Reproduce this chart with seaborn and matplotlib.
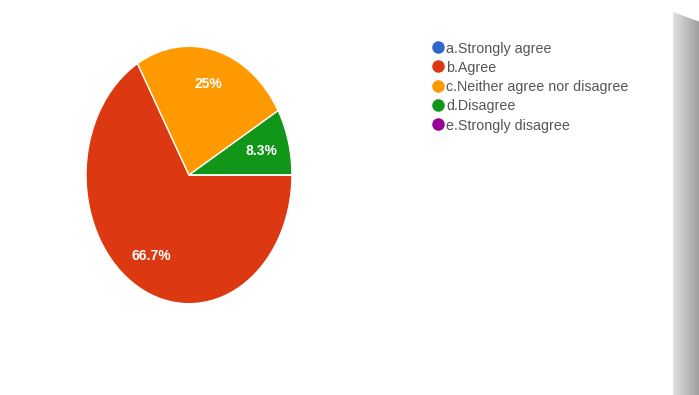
import numpy as np
import matplotlib
matplotlib.use("Agg")
import matplotlib.pyplot as plt
from matplotlib.patches import Polygon
import seaborn as sns

sns.set_theme(style="white")
plt.rcParams["font.family"] = ["Liberation Sans Narrow", "Liberation Sans", "DejaVu Sans"]

# Survey responses (counts)
categories = ["a.Strongly agree", "b.Agree", "c.Neither agree nor disagree",
              "d.Disagree", "e.Strongly disagree"]
counts = [0, 8, 3, 1, 0]
colors = ["#3366cc", "#dc3912", "#ff9900", "#109618", "#990099"]

W, H = 699, 395
fig = plt.figure(figsize=(W / 100, H / 100), dpi=100)
fig.patch.set_facecolor("white")


def fx(px):
    return px / W


def fy(py):
    return 1 - py / H


# Pie panel (slightly stretched vertically)
cx, cy, rx, ry = 189, 175, 104, 130
ax = fig.add_axes([fx(cx - rx), fy(cy + ry), 2 * rx / W, 2 * ry / H])


def fmt_pct(p):
    if p < 0.05:
        return ""
    s = f"{p:.1f}".rstrip("0").rstrip(".")
    return s + "%"


wedges, texts, autotexts = ax.pie(
    counts, colors=colors, startangle=0, counterclock=False,
    autopct=fmt_pct, pctdistance=0.73,
    wedgeprops=dict(edgecolor="white", linewidth=1.0),
    textprops=dict(color="white", fontsize=10, fontweight="bold"),
)
ax.set_aspect("auto")
ax.set_xlim(-1.01, 1.01)
ax.set_ylim(-1.01, 1.01)
ax.axis("off")

# Legend with round markers
lx, ly0, dy = 438, 47, 19.3
for i, (lab, col) in enumerate(zip(categories, colors)):
    y = ly0 + i * dy
    fig.lines.append(plt.Line2D([fx(lx)], [fy(y)], marker="o", markersize=8,
                                color=col, transform=fig.transFigure,
                                linestyle="none"))
    fig.text(fx(lx + 8), fy(y), lab, fontsize=10.3, color="#555555",
             va="center_baseline", ha="left")

# Drop shadow along the right edge
sx0, sy0 = 673, 12
sax = fig.add_axes([fx(sx0), 0, (W - sx0) / W, fy(sy0)])
grad = np.linspace(0.88, 0.62, 64)[None, :]
grad = np.repeat(grad, 8, axis=0)
img = sax.imshow(grad, cmap="gray", vmin=0, vmax=1, aspect="auto",
                 extent=[0, 1, 0, 1])
clip = Polygon([[0, 0], [1, 0], [1, 0.975], [0, 1.0]], closed=True,
               transform=sax.transAxes)
img.set_clip_path(clip)
sax.axis("off")

fig.savefig("out.png", dpi=100)
